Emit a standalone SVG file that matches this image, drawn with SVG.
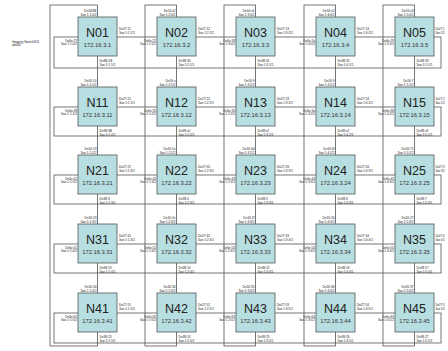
<svg xmlns="http://www.w3.org/2000/svg" width="448" height="351" viewBox="0 0 448 351">
<style>
.bg{fill:#ffffff}
.ln{fill:none;stroke:#555;stroke-width:0.8}
.box{fill:#b7dee1;stroke:#555;stroke-width:0.8}
.t{font-family:"Liberation Sans",Arial,sans-serif;font-size:12.5px;fill:#222;text-anchor:middle}
.ip{font-family:"Liberation Sans",Arial,sans-serif;font-size:5.8px;fill:#333;text-anchor:middle}
.p{font-family:"Liberation Sans",Arial,sans-serif;font-size:3.2px;fill:#222}
.q{font-family:"Liberation Sans",Arial,sans-serif;font-size:2.8px;fill:#222}
.e{text-anchor:end}
</style>
<defs>
<rect id="b" class="box" x="0" y="0" width="39" height="39"/>
</defs>
<rect class="bg" x="0" y="0" width="448" height="351"/>
<text class="p" x="12" y="42.5">Imaging SwitchV01</text>
<text class="p" x="12" y="46">ab000</text>
<g id="connectors">
<rect class="ln" x="54" y="37" width="387" height="31"/>
<rect class="ln" x="54" y="107" width="387" height="29"/>
<rect class="ln" x="54" y="175" width="387" height="29"/>
<rect class="ln" x="54" y="244" width="387" height="29"/>
<rect class="ln" x="54" y="313" width="387" height="30"/>
<rect class="ln" x="50" y="5" width="47.5" height="341"/>
<rect class="ln" x="145" y="5" width="31.5" height="341"/>
<rect class="ln" x="224" y="5" width="31.5" height="341"/>
<rect class="ln" x="304" y="5" width="31.5" height="341"/>
<rect class="ln" x="383" y="5" width="31.5" height="341"/>
</g>
<g id="N01" transform="translate(78,17)"><use href="#b"/><text class="t" x="19.5" y="20">N01</text><text class="ip" x="19.5" y="30">172.16.3.1</text><text class="p e" x="18.5" y="-5">Dn16/3B</text><text class="p e" x="18.5" y="-1.5">3ae:1:1:0/2</text><text class="p" x="41" y="13">Dn27:11</text><text class="p" x="41" y="16.5">3ae:1:1:2/1</text><text class="p e" x="-1" y="24.5">Dn6x:27</text><text class="p e" x="-1" y="28">3ae:1:1:0/2</text><text class="p" x="21.5" y="45">Dn3B:2B</text><text class="p" x="21.5" y="48.5">3ae:1:1:1/1</text></g>
<g id="N02" transform="translate(157,17)"><use href="#b"/><text class="t" x="19.5" y="20">N02</text><text class="ip" x="19.5" y="30">172.16.3.2</text><text class="p e" x="18.5" y="-5">Dn16:x2</text><text class="p e" x="18.5" y="-1.5">3ae:1:2:0/2</text><text class="p" x="41" y="13">Dn27:12</text><text class="p" x="41" y="16.5">3ae:1:2:2/1</text><text class="p e" x="-1" y="24.5">Dn6x:22</text><text class="p e" x="-1" y="28">3ae:1:2:2/2</text><text class="p" x="21.5" y="45">Dn38:30</text><text class="p" x="21.5" y="48.5">3ae:1:2:1/1</text></g>
<g id="N03" transform="translate(236,17)"><use href="#b"/><text class="t" x="19.5" y="20">N03</text><text class="ip" x="19.5" y="30">172.16.3.3</text><text class="p e" x="18.5" y="-5">Dn16:x1</text><text class="p e" x="18.5" y="-1.5">3ae:1:3:0/2</text><text class="p" x="41" y="13">Dn27:13</text><text class="p" x="41" y="16.5">3ae:1:3:2/1</text><text class="p e" x="-1" y="24.5">Dn6x:33</text><text class="p e" x="-1" y="28">3ae:1:3:0/2</text><text class="p" x="21.5" y="45">Dn38:31</text><text class="p" x="21.5" y="48.5">3ae:1:3:1/1</text></g>
<g id="N04" transform="translate(316,17)"><use href="#b"/><text class="t" x="19.5" y="20">N04</text><text class="ip" x="19.5" y="30">172.16.3.4</text><text class="p e" x="18.5" y="-5">Dn16:x2</text><text class="p e" x="18.5" y="-1.5">3ae:1:4:0/2</text><text class="p" x="41" y="13">Dn27:14</text><text class="p" x="41" y="16.5">3ae:1:4:2/1</text><text class="p e" x="-1" y="24.5">Dn6x:2a</text><text class="p e" x="-1" y="28">3ae:1:4:0/2</text><text class="p" x="21.5" y="45">Dn38:32</text><text class="p" x="21.5" y="48.5">3ae:1:4:1/1</text></g>
<g id="N05" transform="translate(395,17)"><use href="#b"/><text class="t" x="19.5" y="20">N05</text><text class="ip" x="19.5" y="30">172.16.3.5</text><text class="p e" x="18.5" y="-5">Dn16:x3</text><text class="p e" x="18.5" y="-1.5">3ae:1:5:0/2</text><text class="q" x="40.5" y="13">Dn27:1</text><text class="q" x="40.5" y="16.5">3ae:2/1</text><text class="p e" x="-1" y="24.5">Dn6x:29</text><text class="p e" x="-1" y="28">3ae:1:5:0/2</text><text class="p" x="21.5" y="45">Dn38:33</text><text class="p" x="21.5" y="48.5">3ae:1:5:1/1</text></g>
<g id="N11" transform="translate(78,87)"><use href="#b"/><text class="t" x="19.5" y="20">N11</text><text class="ip" x="19.5" y="30">172.16.3.11</text><text class="p e" x="18.5" y="-5">Dn16:10</text><text class="p e" x="18.5" y="-1.5">3ae:1:1:1/2</text><text class="p" x="41" y="13">Dn27:21</text><text class="p" x="41" y="16.5">3ae:1:1:2/1</text><text class="p e" x="-1" y="24.5">Dn6x:28</text><text class="p e" x="-1" y="28">3ae:1:1:1/2</text><text class="p" x="21.5" y="45">Dn38:3B</text><text class="p" x="21.5" y="48.5">3ae:1:1:2/1</text></g>
<g id="N12" transform="translate(157,87)"><use href="#b"/><text class="t" x="19.5" y="20">N12</text><text class="ip" x="19.5" y="30">172.16.3.12</text><text class="p e" x="18.5" y="-5">Dn16:x</text><text class="p e" x="18.5" y="-1.5">3ae:1:2:1/2</text><text class="p" x="41" y="13">Dn27:22</text><text class="p" x="41" y="16.5">3ae:1:2:2/1</text><text class="p e" x="-1" y="24.5">Dn6x:32</text><text class="p e" x="-1" y="28">3ae:1:1:2/2</text><text class="p" x="21.5" y="45">Dn38:x0</text><text class="p" x="21.5" y="48.5">3ae:1:2:2/1</text></g>
<g id="N13" transform="translate(236,87)"><use href="#b"/><text class="t" x="19.5" y="20">N13</text><text class="ip" x="19.5" y="30">172.16.3.13</text><text class="p e" x="18.5" y="-5">Dn16:9</text><text class="p e" x="18.5" y="-1.5">3ae:1:3:1/2</text><text class="p" x="41" y="13">Dn27:23</text><text class="p" x="41" y="16.5">3ae:1:3:2/1</text><text class="p e" x="-1" y="24.5">Dn6x:33</text><text class="p e" x="-1" y="28">3ae:1:2:2/2</text><text class="p" x="21.5" y="45">Dn38:x1</text><text class="p" x="21.5" y="48.5">3ae:1:3:2/1</text></g>
<g id="N14" transform="translate(316,87)"><use href="#b"/><text class="t" x="19.5" y="20">N14</text><text class="ip" x="19.5" y="30">172.16.3.14</text><text class="p e" x="18.5" y="-5">Dn16:9</text><text class="p e" x="18.5" y="-1.5">3ae:1:4:1/2</text><text class="p" x="41" y="13">Dn27:24</text><text class="p" x="41" y="16.5">3ae:1:4:2/1</text><text class="p e" x="-1" y="24.5">Dn6x:3a</text><text class="p e" x="-1" y="28">3ae:1:3:2/2</text><text class="p" x="21.5" y="45">Dn38:x2</text><text class="p" x="21.5" y="48.5">3ae:1:4:2/1</text></g>
<g id="N15" transform="translate(395,87)"><use href="#b"/><text class="t" x="19.5" y="20">N15</text><text class="ip" x="19.5" y="30">172.16.3.15</text><text class="p e" x="18.5" y="-5">Dn16:7</text><text class="p e" x="18.5" y="-1.5">3ae:1:5:1/2</text><text class="q" x="40.5" y="13">Dn27:2</text><text class="q" x="40.5" y="16.5">3ae:2/1</text><text class="p e" x="-1" y="24.5">Dn6x:36</text><text class="p e" x="-1" y="28">3ae:1:4:2/2</text><text class="p" x="21.5" y="45">Dn38:x3</text><text class="p" x="21.5" y="48.5">3ae:1:5:2/1</text></g>
<g id="N21" transform="translate(78,155)"><use href="#b"/><text class="t" x="19.5" y="20">N21</text><text class="ip" x="19.5" y="30">172.16.3.21</text><text class="p e" x="18.5" y="-5">Dn16:13</text><text class="p e" x="18.5" y="-1.5">3ae:1:1:2/2</text><text class="p" x="41" y="13">Dn27:21</text><text class="p" x="41" y="16.5">3ae:1:1:3/1</text><text class="p e" x="-1" y="24.5">Dn6x:41</text><text class="p e" x="-1" y="28">3ae:1:1:3/2</text><text class="p" x="21.5" y="45">Dn38:3</text><text class="p" x="21.5" y="48.5">3ae:1:1:3/1</text></g>
<g id="N22" transform="translate(157,155)"><use href="#b"/><text class="t" x="19.5" y="20">N22</text><text class="ip" x="19.5" y="30">172.16.3.22</text><text class="p e" x="18.5" y="-5">Dn16:1a</text><text class="p e" x="18.5" y="-1.5">3ae:1:2:2/2</text><text class="p" x="41" y="13">Dn27:32</text><text class="p" x="41" y="16.5">3ae:1:2:3/1</text><text class="p e" x="-1" y="24.5">Dn6x:42</text><text class="p e" x="-1" y="28">3ae:1:1:3/2</text><text class="p" x="21.5" y="45">Dn38:4</text><text class="p" x="21.5" y="48.5">3ae:1:2:3/1</text></g>
<g id="N23" transform="translate(236,155)"><use href="#b"/><text class="t" x="19.5" y="20">N23</text><text class="ip" x="19.5" y="30">172.16.3.23</text><text class="p e" x="18.5" y="-5">Dn16:4d</text><text class="p e" x="18.5" y="-1.5">3ae:1:3:2/2</text><text class="p" x="41" y="13">Dn27:33</text><text class="p" x="41" y="16.5">3ae:1:3:3/1</text><text class="p e" x="-1" y="24.5">Dn6x:43</text><text class="p e" x="-1" y="28">3ae:1:2:3/2</text><text class="p" x="21.5" y="45">Dn38:5</text><text class="p" x="21.5" y="48.5">3ae:1:3:3/1</text></g>
<g id="N24" transform="translate(316,155)"><use href="#b"/><text class="t" x="19.5" y="20">N24</text><text class="ip" x="19.5" y="30">172.16.3.24</text><text class="p e" x="18.5" y="-5">Dn16:4f</text><text class="p e" x="18.5" y="-1.5">3ae:1:4:2/2</text><text class="p" x="41" y="13">Dn27:34</text><text class="p" x="41" y="16.5">3ae:1:4:3/1</text><text class="p e" x="-1" y="24.5">Dn6x:44</text><text class="p e" x="-1" y="28">3ae:1:3:3/2</text><text class="p" x="21.5" y="45">Dn38:6</text><text class="p" x="21.5" y="48.5">3ae:1:4:3/1</text></g>
<g id="N25" transform="translate(395,155)"><use href="#b"/><text class="t" x="19.5" y="20">N25</text><text class="ip" x="19.5" y="30">172.16.3.25</text><text class="p e" x="18.5" y="-5">Dn16:71</text><text class="p e" x="18.5" y="-1.5">3ae:1:5:2/2</text><text class="q" x="40.5" y="13">Dn27:3</text><text class="q" x="40.5" y="16.5">3ae:3/1</text><text class="p e" x="-1" y="24.5">Dn6x:45</text><text class="p e" x="-1" y="28">3ae:1:4:3/2</text><text class="p" x="21.5" y="45">Dn38:7</text><text class="p" x="21.5" y="48.5">3ae:1:5:3/1</text></g>
<g id="N31" transform="translate(78,224)"><use href="#b"/><text class="t" x="19.5" y="20">N31</text><text class="ip" x="19.5" y="30">172.16.3.31</text><text class="p e" x="18.5" y="-5">Dn16:23</text><text class="p e" x="18.5" y="-1.5">3ae:1:1:3/2</text><text class="p" x="41" y="13">Dn27:41</text><text class="p" x="41" y="16.5">3ae:1:1:4/1</text><text class="p e" x="-1" y="24.5">Dn6x:51</text><text class="p e" x="-1" y="28">3ae:1:1:4/2</text><text class="p" x="21.5" y="45">Dn38:13</text><text class="p" x="21.5" y="48.5">3ae:1:1:4/1</text></g>
<g id="N32" transform="translate(157,224)"><use href="#b"/><text class="t" x="19.5" y="20">N32</text><text class="ip" x="19.5" y="30">172.16.3.32</text><text class="p e" x="18.5" y="-5">Dn16:2e</text><text class="p e" x="18.5" y="-1.5">3ae:1:2:3/2</text><text class="p" x="41" y="13">Dn27:42</text><text class="p" x="41" y="16.5">3ae:1:2:4/1</text><text class="p e" x="-1" y="24.5">Dn6x:52</text><text class="p e" x="-1" y="28">3ae:1:1:4/2</text><text class="p" x="21.5" y="45">Dn38:14</text><text class="p" x="21.5" y="48.5">3ae:1:2:4/1</text></g>
<g id="N33" transform="translate(236,224)"><use href="#b"/><text class="t" x="19.5" y="20">N33</text><text class="ip" x="19.5" y="30">172.16.3.33</text><text class="p e" x="18.5" y="-5">Dn16:2f</text><text class="p e" x="18.5" y="-1.5">3ae:1:3:3/2</text><text class="p" x="41" y="13">Dn27:43</text><text class="p" x="41" y="16.5">3ae:1:3:4/1</text><text class="p e" x="-1" y="24.5">Dn6x:53</text><text class="p e" x="-1" y="28">3ae:1:2:4/2</text><text class="p" x="21.5" y="45">Dn38:15</text><text class="p" x="21.5" y="48.5">3ae:1:3:4/1</text></g>
<g id="N34" transform="translate(316,224)"><use href="#b"/><text class="t" x="19.5" y="20">N34</text><text class="ip" x="19.5" y="30">172.16.3.34</text><text class="p e" x="18.5" y="-5">Dn16:26</text><text class="p e" x="18.5" y="-1.5">3ae:1:4:3/2</text><text class="p" x="41" y="13">Dn27:44</text><text class="p" x="41" y="16.5">3ae:1:4:4/1</text><text class="p e" x="-1" y="24.5">Dn6x:54</text><text class="p e" x="-1" y="28">3ae:1:3:4/2</text><text class="p" x="21.5" y="45">Dn38:16</text><text class="p" x="21.5" y="48.5">3ae:1:4:4/1</text></g>
<g id="N35" transform="translate(395,224)"><use href="#b"/><text class="t" x="19.5" y="20">N35</text><text class="ip" x="19.5" y="30">172.16.3.35</text><text class="p e" x="18.5" y="-5">Dn16:27</text><text class="p e" x="18.5" y="-1.5">3ae:1:5:3/2</text><text class="q" x="40.5" y="13">Dn27:4</text><text class="q" x="40.5" y="16.5">3ae:4/1</text><text class="p e" x="-1" y="24.5">Dn6x:55</text><text class="p e" x="-1" y="28">3ae:1:4:4/2</text><text class="p" x="21.5" y="45">Dn38:17</text><text class="p" x="21.5" y="48.5">3ae:1:5:4/1</text></g>
<g id="N41" transform="translate(78,293)"><use href="#b"/><text class="t" x="19.5" y="20">N41</text><text class="ip" x="19.5" y="30">172.16.3.41</text><text class="p e" x="18.5" y="-5">Dn16:30</text><text class="p e" x="18.5" y="-1.5">3ae:1:1:4/2</text><text class="p" x="41" y="13">Dn27:51</text><text class="p" x="41" y="16.5">3ae:1:1:5/1</text><text class="p e" x="-1" y="24.5">Dn6x:61</text><text class="p e" x="-1" y="28">3ae:1:1:5/2</text><text class="p" x="21.5" y="45">Dn38:23</text><text class="p" x="21.5" y="48.5">3ae:1:1:5/1</text></g>
<g id="N42" transform="translate(157,293)"><use href="#b"/><text class="t" x="19.5" y="20">N42</text><text class="ip" x="19.5" y="30">172.16.3.42</text><text class="p e" x="18.5" y="-5">Dn16:34</text><text class="p e" x="18.5" y="-1.5">3ae:1:2:4/2</text><text class="p" x="41" y="13">Dn27:52</text><text class="p" x="41" y="16.5">3ae:1:2:5/1</text><text class="p e" x="-1" y="24.5">Dn6x:62</text><text class="p e" x="-1" y="28">3ae:1:1:5/2</text><text class="p" x="21.5" y="45">Dn38:24</text><text class="p" x="21.5" y="48.5">3ae:1:2:5/1</text></g>
<g id="N43" transform="translate(236,293)"><use href="#b"/><text class="t" x="19.5" y="20">N43</text><text class="ip" x="19.5" y="30">172.16.3.43</text><text class="p e" x="18.5" y="-5">Dn16:35</text><text class="p e" x="18.5" y="-1.5">3ae:1:3:4/2</text><text class="p" x="41" y="13">Dn27:53</text><text class="p" x="41" y="16.5">3ae:1:3:5/1</text><text class="p e" x="-1" y="24.5">Dn6x:63</text><text class="p e" x="-1" y="28">3ae:1:2:5/2</text><text class="p" x="21.5" y="45">Dn38:25</text><text class="p" x="21.5" y="48.5">3ae:1:3:5/1</text></g>
<g id="N44" transform="translate(316,293)"><use href="#b"/><text class="t" x="19.5" y="20">N44</text><text class="ip" x="19.5" y="30">172.16.3.44</text><text class="p e" x="18.5" y="-5">Dn16:36</text><text class="p e" x="18.5" y="-1.5">3ae:1:4:4/2</text><text class="p" x="41" y="13">Dn27:54</text><text class="p" x="41" y="16.5">3ae:1:4:5/1</text><text class="p e" x="-1" y="24.5">Dn6x:64</text><text class="p e" x="-1" y="28">3ae:1:3:5/2</text><text class="p" x="21.5" y="45">Dn38:26</text><text class="p" x="21.5" y="48.5">3ae:1:4:5/1</text></g>
<g id="N45" transform="translate(395,293)"><use href="#b"/><text class="t" x="19.5" y="20">N45</text><text class="ip" x="19.5" y="30">172.16.3.45</text><text class="p e" x="18.5" y="-5">Dn16:37</text><text class="p e" x="18.5" y="-1.5">3ae:1:5:4/2</text><text class="q" x="40.5" y="13">Dn27:5</text><text class="q" x="40.5" y="16.5">3ae:5/1</text><text class="p e" x="-1" y="24.5">Dn6x:65</text><text class="p e" x="-1" y="28">3ae:1:4:5/2</text><text class="p" x="21.5" y="45">Dn38:27</text><text class="p" x="21.5" y="48.5">3ae:1:5:5/1</text></g>
</svg>
